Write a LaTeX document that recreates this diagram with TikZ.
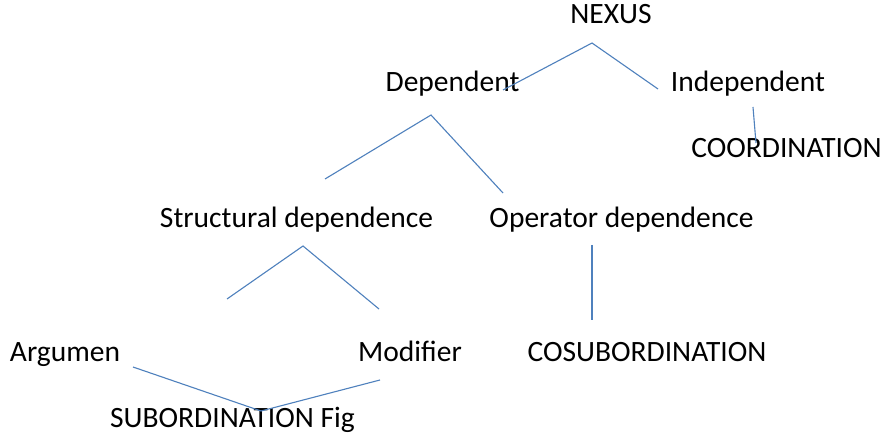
\documentclass[tikz,border=0pt]{standalone}
\usepackage{fontspec}
\setmainfont{Carlito}
\definecolor{linkblue}{RGB}{79,129,189}
\begin{document}
\begin{tikzpicture}[x=1pt,y=-1pt,
  lbl/.style={anchor=base,inner sep=0pt,font=\fontsize{29.5}{35}\selectfont,text=black},
  link/.style={draw=linkblue,line width=1.1pt}]
\useasboundingbox (0,0) rectangle (889,443);
\fill[white] (0,0) rectangle (889,443);
% labels
\node[lbl] (nexus) at (611,24) {NEXUS};
\node[lbl] (dep) at (452.5,92) {Dependent};
\node[lbl] (indep) at (748,92) {Independent};
\node[lbl] (coord) at (786.5,158) {COORDINATION};
\node[lbl] (struct) at (296.5,228) {Structural dependence};
\node[lbl] (oper) at (621.5,228) {Operator dependence};
\node[lbl] (arg) at (65,362) {Argumen};
\node[lbl] (mod) at (410,362) {Modifier};
\node[lbl] (cosub) at (647,362) {COSUBORDINATION};
\node[lbl] (sub) at (232.5,428) {SUBORDINATION Fig};
% connector end points
\coordinate (n1) at (503,90);
\coordinate (n2) at (592,43);
\coordinate (n3) at (658,89);
\coordinate (i1) at (753,107);
\coordinate (i2) at (756,143);
\coordinate (d1) at (325,179);
\coordinate (d2) at (431,115);
\coordinate (d3) at (503,193);
\coordinate (s1) at (227,299);
\coordinate (s2) at (303,246);
\coordinate (s3) at (379,309);
\coordinate (o1) at (592,245);
\coordinate (o2) at (592,320);
\coordinate (a1) at (133,367);
\coordinate (a2) at (261,411);
\coordinate (a3) at (380,380);
% connectors
\draw[link] (n1) -- (n2) -- (n3);
\draw[link] (i1) -- (i2);
\draw[link] (d1) -- (d2) -- (d3);
\draw[link] (s1) -- (s2) -- (s3);
\draw[link] (o1) -- (o2);
\draw[link] (a1) -- (a2) -- (a3);
\end{tikzpicture}
\end{document}
